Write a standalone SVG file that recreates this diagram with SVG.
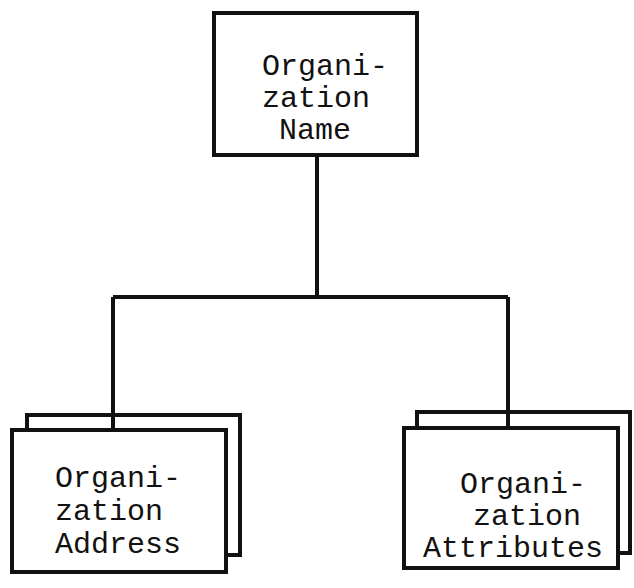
<svg xmlns="http://www.w3.org/2000/svg" width="634" height="588" viewBox="0 0 634 588">
<style>
.box{fill:#fff;stroke:#111;stroke-width:4}
.ln{fill:none;stroke:#111;stroke-width:4}
text{font-family:"Liberation Mono","Courier New",monospace;font-size:30px;fill:#111}
</style>
<rect width="634" height="588" fill="#fff"/>
<g id="org-name">
<rect class="box" x="214" y="13" width="203" height="142"/>
<text x="262" y="75">Organi-</text>
<text x="262" y="107">zation</text>
<text x="279" y="139">Name</text>
</g>
<g id="org-address">
<rect class="box" x="27" y="415" width="213" height="140"/>
<rect class="box" x="12" y="430" width="214" height="142"/>
<text x="55" y="487">Organi-</text>
<text x="55" y="520">zation</text>
<text x="55" y="553">Address</text>
</g>
<g id="org-attributes">
<rect class="box" x="417" y="412" width="213" height="141"/>
<rect class="box" x="404" y="428" width="214" height="140"/>
<text x="460" y="493">Organi-</text>
<text x="473" y="525">zation</text>
<text x="423" y="557">Attributes</text>
</g>
<g id="connectors">
<path class="ln" d="M317 155 V297 M113 297 H508 M113 297 V430 M508 297 V428"/>
</g>
</svg>
